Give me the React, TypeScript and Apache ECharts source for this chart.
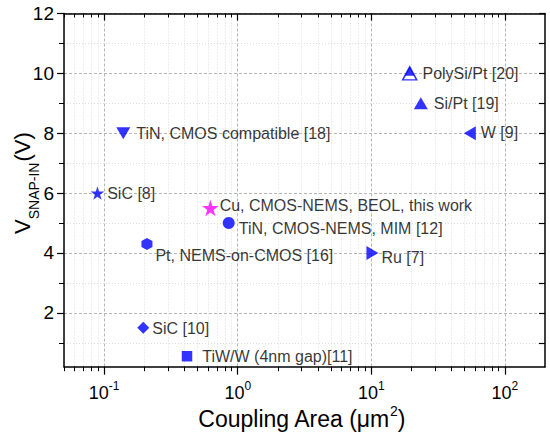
import React, { useEffect, useRef } from "react";
import * as echarts from "echarts";

// ---- data ----
const pointLabels = [
  "SiC [8]",
  "TiN, CMOS compatible [18]",
  "Cu, CMOS-NEMS, BEOL, this work",
  "TiN, CMOS-NEMS, MIM [12]",
  "Pt, NEMS-on-CMOS [16]",
  "SiC [10]",
  "TiW/W (4nm gap)[11]",
  "Ru [7]",
  "W [9]",
  "Si/Pt [19]",
  "PolySi/Pt [20]",
];
const couplingArea = [0.089, 0.139, 0.624, 0.856, 0.209, 0.196, 0.417, 10.2, 54.7, 23.5, 19.4];
const snapInVoltage = [6, 8, 5.5, 5, 4.3, 1.5, 0.55, 4, 8, 9, 10];

const xMajorTicks = [0.1, 1, 10, 100];
const xMinorTicks = [
  0.05, 0.06, 0.07, 0.08, 0.09,
  0.2, 0.3, 0.4, 0.5, 0.6, 0.7, 0.8, 0.9,
  2, 3, 4, 5, 6, 7, 8, 9,
  20, 30, 40, 50, 60, 70, 80, 90,
];
const yMajorTicks = [2, 4, 6, 8, 10, 12];
const yMinorTicks = [1, 3, 5, 7, 9, 11];
const yAllTicks = [1, 2, 3, 4, 5, 6, 7, 8, 9, 10, 11, 12];

// ---- styles ----
const BLUE = "#0000ff";
const MAGENTA = "#ff00ff";
const FONT = "'Liberation Sans', Arial, sans-serif";
const STAR = "path://M50,0 L61.2,34.5 L97.6,34.5 L68.2,55.9 L79.4,90.5 L50,69.1 L20.6,90.5 L31.8,55.9 L2.4,34.5 L38.8,34.5 Z";
const HEX = "path://M50,0 L93.3,25 L93.3,75 L50,100 L6.7,75 L6.7,25 Z";

const markerSymbols = [STAR, "triangle", STAR, "circle", HEX, "diamond", "rect", "triangle", "triangle", "triangle", "triangle"];
const markerSizes: any[] = [13.5, [14, 12], 16.5, 12, [11, 12], 12, 10.5, [14, 12], [14, 12], [14, 12], [14, 13]];
const markerRotates = [0, 180, 0, 0, 0, 0, 0, -90, 90, 0, 0];
const markerColors = [BLUE, BLUE, MAGENTA, BLUE, BLUE, BLUE, BLUE, BLUE, BLUE, BLUE, "#ffffff"];
const labelDistances = [3, 6, 1, 4, 3, 3, 10, 3, 5, 6, 5];
const labelOffsets = [
  [0, 0], [0, 0], [0, -3], [0, 5], [0, 12], [0, 1], [0, 0], [0, 5], [0, -1], [0, 0], [0, 0],
];

export default function App() {
  const ref = useRef<HTMLDivElement>(null);

  useEffect(() => {
    document.body.style.margin = "0";
    if (!ref.current) return;
    const chart = echarts.init(ref.current, undefined, { renderer: "svg" });

    const scatterData = couplingArea.map((x, i) => ({
      value: [x, snapInVoltage[i]],
      name: pointLabels[i],
      symbol: markerSymbols[i],
      symbolSize: markerSizes[i],
      symbolRotate: markerRotates[i],
      itemStyle:
        i === 10
          ? { color: "#ffffff", borderColor: BLUE, borderWidth: 1.5 }
          : { color: markerColors[i] },
      label: {
        show: true,
        position: "right",
        distance: labelDistances[i],
        offset: labelOffsets[i],
        formatter: pointLabels[i],
        color: "#000",
        fontSize: 16,
        fontFamily: FONT,
      },
    }));

    const overlayIndex = 10;

    const commonX = { type: "log", logBase: 10, min: 0.05, max: 200, gridIndex: 0 };
    const commonY = { type: "value", min: 0.2, max: 12, gridIndex: 0 };

    const option: any = {
      animation: false,
      backgroundColor: "#ffffff",
      grid: { left: 64, top: 13.5, right: 5, bottom: 72.3, containLabel: false, outerBoundsMode: "none" },
      xAxis: [
        {
          ...commonX,
          position: "bottom",
          axisLine: { show: true, onZero: false, lineStyle: { color: "#000", width: 1.5 } },
          axisTick: { show: true, inside: false, length: 8, customValues: xMajorTicks, lineStyle: { color: "#000", width: 1.2 } },
          axisLabel: {
            show: true,
            customValues: xMajorTicks,
            margin: 13,
            formatter: (v: number) => `{b|10}{s|${Math.round(Math.log10(v))}}`,
            rich: {
              b: { fontSize: 18, fontFamily: FONT, color: "#000", lineHeight: 22, verticalAlign: "bottom" },
              s: { fontSize: 12, fontFamily: FONT, color: "#000", lineHeight: 12, verticalAlign: "top" },
            },
          },
          splitLine: { show: true, lineStyle: { color: "#b5b5b5", type: [3, 2], width: 1 } },
          name: "{t|Coupling Area (μm}{s|2}{t|)}",
          nameLocation: "middle",
          nameGap: 37,
          nameMoveOverlap: false,
          nameTextStyle: {
            padding: [0, 6, 0, 0],
            rich: {
              t: { fontSize: 23, fontFamily: FONT, color: "#000", lineHeight: 27, verticalAlign: "bottom" },
              s: { fontSize: 14, fontFamily: FONT, color: "#000", lineHeight: 14, verticalAlign: "top" },
            },
          },
        },
        {
          ...commonX,
          position: "bottom",
          axisLine: { show: false, onZero: false },
          axisTick: { show: true, inside: false, length: 4.5, customValues: xMinorTicks, lineStyle: { color: "#000", width: 1 } },
          axisLabel: { show: false },
          splitLine: { show: true, lineStyle: { color: "#dcdcdc", type: [1, 2], width: 1 } },
        },
        {
          ...commonX,
          position: "top",
          axisLine: { show: true, onZero: false, lineStyle: { color: "#000", width: 1.5 } },
          axisTick: { show: true, inside: true, length: 7, customValues: xMajorTicks, lineStyle: { color: "#000", width: 1.2 } },
          axisLabel: { show: false },
          splitLine: { show: false },
        },
        {
          ...commonX,
          position: "top",
          axisLine: { show: false, onZero: false },
          axisTick: { show: true, inside: true, length: 4, customValues: xMinorTicks, lineStyle: { color: "#000", width: 1 } },
          axisLabel: { show: false },
          splitLine: { show: false },
        },
      ],
      yAxis: [
        {
          ...commonY,
          position: "left",
          axisLine: { show: true, onZero: false, lineStyle: { color: "#000", width: 1.5 } },
          axisTick: { show: true, inside: false, length: 7, customValues: yMajorTicks, lineStyle: { color: "#000", width: 1.2 } },
          axisLabel: { show: true, customValues: yMajorTicks, margin: 10, fontSize: 19, fontFamily: FONT, color: "#000" },
          splitLine: { show: true, lineStyle: { color: "#b5b5b5", type: [3, 2], width: 1 } },
          name: "{v|V}{s|SNAP-IN}{v|(V)}",
          nameLocation: "middle",
          nameGap: 33,
          nameMoveOverlap: false,
          nameTextStyle: {
            padding: [0, 0, 0, 14],
            rich: {
              v: { fontSize: 22, fontFamily: FONT, color: "#000", lineHeight: 20, verticalAlign: "top" },
              s: { fontSize: 14, fontFamily: FONT, color: "#000", lineHeight: 14, padding: [16, 1, 0, 0], verticalAlign: "top" },
            },
          },
        },
        {
          ...commonY,
          position: "left",
          axisLine: { show: false, onZero: false },
          axisTick: { show: true, inside: false, length: 5, customValues: yMinorTicks, lineStyle: { color: "#000", width: 1 } },
          axisLabel: { show: false },
          splitLine: { show: true, lineStyle: { color: "#dcdcdc", type: [1, 2], width: 1 } },
        },
        {
          ...commonY,
          position: "right",
          axisLine: { show: true, onZero: false, lineStyle: { color: "#000", width: 1.5 } },
          axisTick: { show: true, inside: true, length: 6, customValues: yAllTicks, lineStyle: { color: "#000", width: 1.2 } },
          axisLabel: { show: false },
          splitLine: { show: false },
        },
      ],
      series: [
        {
          type: "scatter",
          xAxisIndex: 0,
          yAxisIndex: 0,
          clip: false,
          data: scatterData,
          z: 3,
        },
        {
          type: "scatter",
          xAxisIndex: 0,
          yAxisIndex: 0,
          clip: false,
          z: 4,
          silent: true,
          data: [
            {
              value: [couplingArea[overlayIndex], snapInVoltage[overlayIndex]],
              symbol: "triangle",
              symbolSize: [10, 9],
              symbolOffset: [0, -2],
              itemStyle: { color: BLUE },
            },
          ],
        },
      ],
    };

    chart.setOption(option);
    return () => chart.dispose();
  }, []);

  return <div ref={ref} style={{ width: 550, height: 439 }} />;
}
